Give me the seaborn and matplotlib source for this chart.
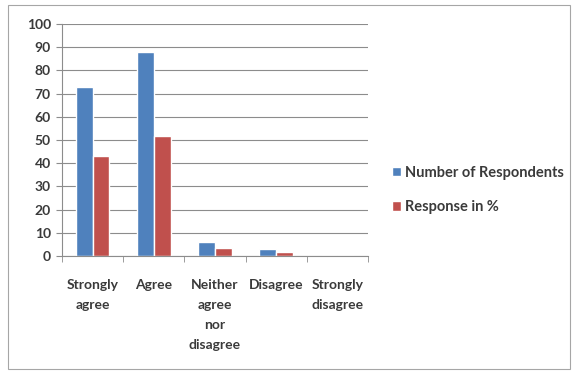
import matplotlib
matplotlib.use("Agg")
import matplotlib.pyplot as plt
import seaborn as sns
import pandas as pd
from matplotlib.patches import Rectangle

categories = ["Strongly\nagree", "Agree", "Neither\nagree\nnor\ndisagree", "Disagree", "Strongly\ndisagree"]
respondents = [73, 88, 6, 3, 0]
response_pct = [42.9, 51.8, 3.5, 1.8, 0]
series_names = ["Number of Respondents", "Response in %"]
y_ticks = list(range(0, 101, 10))

df = pd.DataFrame({
    "category": categories * 2,
    "value": respondents + response_pct,
    "series": [series_names[0]] * len(categories) + [series_names[1]] * len(categories),
})

sns.set_style("white")
plt.rcParams["font.family"] = ["Lato", "DejaVu Sans"]
text_color = "#3a3a3a"
fs = 10

fig = plt.figure(figsize=(5.74, 3.73), dpi=100)
ax = fig.add_axes([62 / 574, 1 - 256 / 373, 306 / 574, 232 / 373])

palette = {series_names[0]: "#4F81BD", series_names[1]: "#C0504D"}
sns.barplot(data=df, x="category", y="value", hue="series", palette=palette,
            width=0.55, saturation=1, ax=ax, legend=True)

ax.set_ylim(0, 100)
ax.set_yticks(y_ticks)
ax.set_xlim(-0.5, len(categories) - 0.5)
ax.set_xlabel("")
ax.set_ylabel("")
ax.yaxis.grid(True, color="#8c8c8c", linewidth=0.8)
ax.set_axisbelow(True)
for side in ["top", "right"]:
    ax.spines[side].set_visible(False)
ax.spines["left"].set_color("#8c8c8c")
ax.spines["bottom"].set_color("#8c8c8c")

ax.tick_params(axis="y", labelsize=fs, colors=text_color, length=4, direction="out",
               left=True, color="#8c8c8c", pad=4)
ax.tick_params(axis="x", labelsize=fs, colors=text_color, bottom=False, pad=13)
# minor ticks between categories
ax.set_xticks([i - 0.5 for i in range(len(categories) + 1)], minor=True)
ax.tick_params(axis="x", which="minor", length=4, bottom=True, color="#8c8c8c")
for lbl in ax.get_xticklabels() + ax.get_yticklabels():
    lbl.set_fontweight("bold")
for lbl in ax.get_xticklabels():
    lbl.set_verticalalignment("top")
    lbl.set_linespacing(1.8)
    lbl.set_horizontalalignment("center")

handles, labels = ax.get_legend_handles_labels()
leg = ax.legend(handles, labels, loc="center left", bbox_to_anchor=(1.035, 0.285),
                frameon=False, handlelength=0.6, handleheight=0.6,
                handletextpad=0.3, labelspacing=1.4, labelcolor=text_color,
                prop={"size": 10.5, "weight": "bold"})

fig.patches.append(Rectangle((8 / 574, 4 / 373), 562 / 574, 364 / 373,
                             transform=fig.transFigure, fill=False,
                             edgecolor="#a6a6a6", linewidth=0.8))

fig.savefig("out.png", dpi=100)
